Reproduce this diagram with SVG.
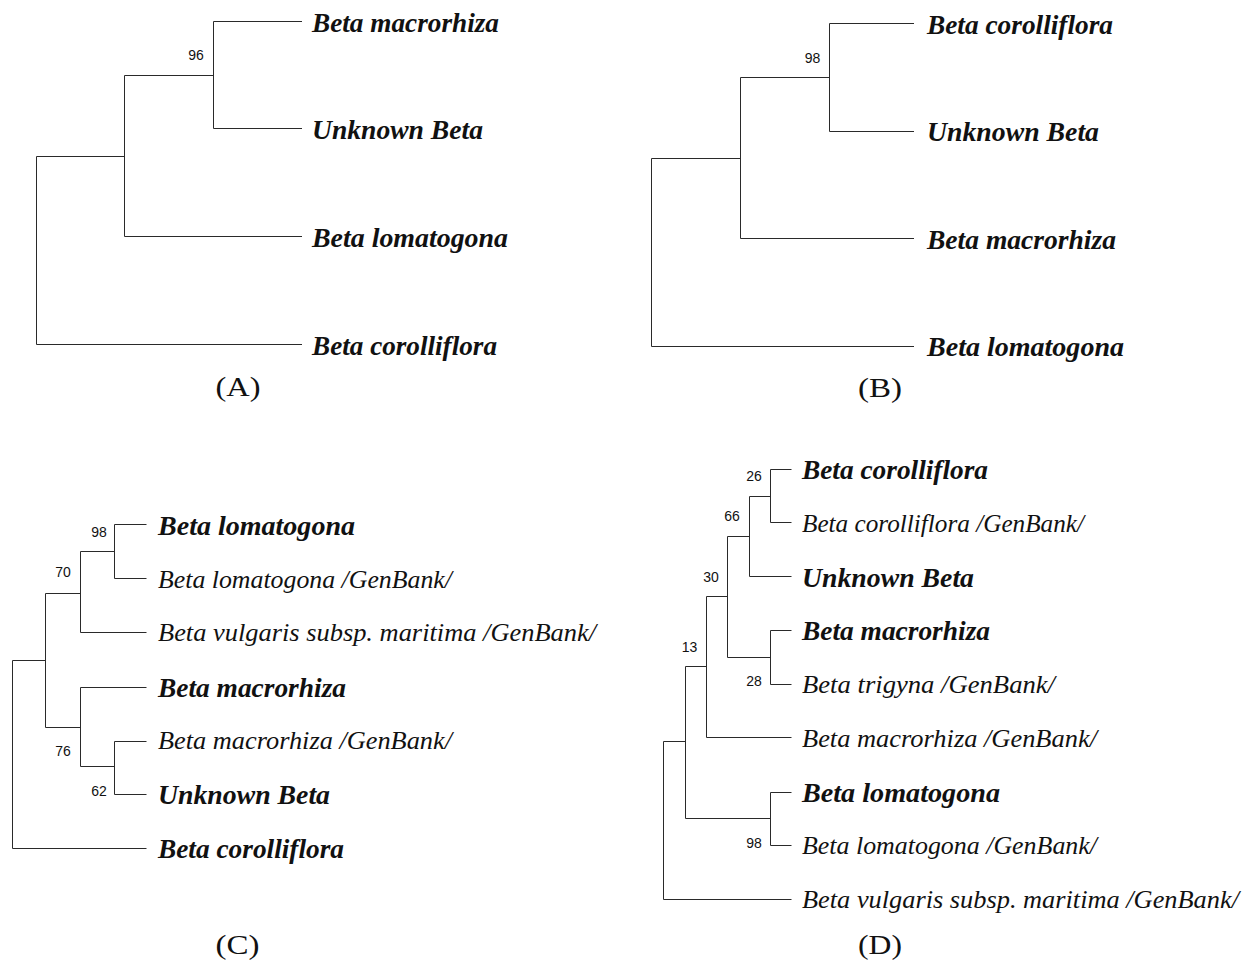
<svg xmlns="http://www.w3.org/2000/svg" width="1252" height="964" viewBox="0 0 1252 964">
<style>
.br{fill:none;stroke:#2a2a2a;stroke-width:1}
.bt{font-family:"Liberation Serif",serif;font-style:italic;font-weight:bold;font-size:27px;fill:#111}
.rt{font-family:"Liberation Serif",serif;font-style:italic;font-size:26px;fill:#111}
.bs{font-family:"Liberation Sans",sans-serif;font-size:14px;fill:#111;text-anchor:middle}
.pl{font-family:"Liberation Serif",serif;font-size:28px;fill:#111;text-anchor:middle}
</style>
<rect width="1252" height="964" fill="#fff"/>

<!-- Panel A -->
<g id="panelA">
<g id="A-connectors">
<path class="br" d="M302 21.5 H213.5 V128.5 H302"/>
<path class="br" d="M213.5 75.5 H124.5 V236.5 H302"/>
<path class="br" d="M124.5 156.5 H36.5 V344.5 H302"/>
</g>
<g id="A-leaf-macrorhiza"><text class="bt" x="312" y="32" textLength="187" lengthAdjust="spacingAndGlyphs">Beta macrorhiza</text></g>
<g id="A-leaf-unknown"><text class="bt" x="312" y="138.5" textLength="171" lengthAdjust="spacingAndGlyphs">Unknown Beta</text></g>
<g id="A-leaf-lomatogona"><text class="bt" x="312" y="247" textLength="196" lengthAdjust="spacingAndGlyphs">Beta lomatogona</text></g>
<g id="A-leaf-corolliflora"><text class="bt" x="312" y="354.5" textLength="185" lengthAdjust="spacingAndGlyphs">Beta corolliflora</text></g>
<g id="A-support"><text class="bs" x="196" y="60">96</text></g>
<g id="A-label"><text class="pl" x="238" y="396" textLength="45" lengthAdjust="spacingAndGlyphs">(A)</text></g>
</g>

<!-- Panel B -->
<g id="panelB">
<g id="B-connectors">
<path class="br" d="M914 23.5 H829.5 V131.5 H914"/>
<path class="br" d="M829.5 77.5 H740.5 V238.5 H914"/>
<path class="br" d="M740.5 158.5 H651.5 V346.5 H914"/>
</g>
<g id="B-leaf-corolliflora"><text class="bt" x="927" y="33.5" textLength="186" lengthAdjust="spacingAndGlyphs">Beta corolliflora</text></g>
<g id="B-leaf-unknown"><text class="bt" x="927" y="141" textLength="172" lengthAdjust="spacingAndGlyphs">Unknown Beta</text></g>
<g id="B-leaf-macrorhiza"><text class="bt" x="927" y="248.5" textLength="189" lengthAdjust="spacingAndGlyphs">Beta macrorhiza</text></g>
<g id="B-leaf-lomatogona"><text class="bt" x="927" y="356" textLength="197" lengthAdjust="spacingAndGlyphs">Beta lomatogona</text></g>
<g id="B-support"><text class="bs" x="812.5" y="62.5">98</text></g>
<g id="B-label"><text class="pl" x="880" y="397" textLength="44" lengthAdjust="spacingAndGlyphs">(B)</text></g>
</g>

<!-- Panel C -->
<g id="panelC">
<g id="C-connectors">
<path class="br" d="M146.5 524.5 H114.5 V578.5 H146.5"/>
<path class="br" d="M114.5 551.5 H80.5 V632.5 H146.5"/>
<path class="br" d="M146.5 741.5 H114.5 V794.5 H146.5"/>
<path class="br" d="M146.5 687.5 H80.5 V766.5 H114.5"/>
<path class="br" d="M80.5 593.5 H45.5 V727.5 H80.5"/>
<path class="br" d="M45.5 660.5 H12.5 V848.5 H146.5"/>
</g>
<g id="C-leaf-lomatogona"><text class="bt" x="158" y="535" textLength="197" lengthAdjust="spacingAndGlyphs">Beta lomatogona</text></g>
<g id="C-leaf-lomatogona-gb"><text class="rt" x="158" y="587.5" textLength="294" lengthAdjust="spacingAndGlyphs">Beta lomatogona /GenBank/</text></g>
<g id="C-leaf-vulgaris-gb"><text class="rt" x="158" y="641" textLength="438" lengthAdjust="spacingAndGlyphs">Beta vulgaris subsp. maritima /GenBank/</text></g>
<g id="C-leaf-macrorhiza"><text class="bt" x="158" y="697" textLength="188" lengthAdjust="spacingAndGlyphs">Beta macrorhiza</text></g>
<g id="C-leaf-macrorhiza-gb"><text class="rt" x="158" y="749" textLength="294" lengthAdjust="spacingAndGlyphs">Beta macrorhiza /GenBank/</text></g>
<g id="C-leaf-unknown"><text class="bt" x="158" y="804" textLength="172" lengthAdjust="spacingAndGlyphs">Unknown Beta</text></g>
<g id="C-leaf-corolliflora"><text class="bt" x="158" y="858" textLength="186" lengthAdjust="spacingAndGlyphs">Beta corolliflora</text></g>
<g id="C-supports">
<text class="bs" x="99" y="536.5">98</text>
<text class="bs" x="63" y="576.5">70</text>
<text class="bs" x="63" y="756">76</text>
<text class="bs" x="99" y="796">62</text>
</g>
<g id="C-label"><text class="pl" x="237.5" y="954" textLength="44" lengthAdjust="spacingAndGlyphs">(C)</text></g>
</g>

<!-- Panel D -->
<g id="panelD">
<g id="D-connectors">
<path class="br" d="M791.5 469.5 H770.5 V522.5 H791.5"/>
<path class="br" d="M770.5 496.5 H749.5 V576.5 H791.5"/>
<path class="br" d="M791.5 630.5 H770.5 V684.5 H791.5"/>
<path class="br" d="M749.5 536.5 H727.5 V657.5 H770.5"/>
<path class="br" d="M727.5 596.5 H706.5 V737.5 H791.5"/>
<path class="br" d="M791.5 792.5 H770.5 V845.5 H791.5"/>
<path class="br" d="M706.5 666.5 H685.5 V818.5 H770.5"/>
<path class="br" d="M685.5 741.5 H663.5 V899.5 H791.5"/>
</g>
<g id="D-leaf-corolliflora"><text class="bt" x="802" y="478.5" textLength="186" lengthAdjust="spacingAndGlyphs">Beta corolliflora</text></g>
<g id="D-leaf-corolliflora-gb"><text class="rt" x="802" y="532" textLength="282" lengthAdjust="spacingAndGlyphs">Beta corolliflora /GenBank/</text></g>
<g id="D-leaf-unknown"><text class="bt" x="802" y="586.5" textLength="172" lengthAdjust="spacingAndGlyphs">Unknown Beta</text></g>
<g id="D-leaf-macrorhiza"><text class="bt" x="802" y="640" textLength="188" lengthAdjust="spacingAndGlyphs">Beta macrorhiza</text></g>
<g id="D-leaf-trigyna-gb"><text class="rt" x="802" y="692.5" textLength="253" lengthAdjust="spacingAndGlyphs">Beta trigyna /GenBank/</text></g>
<g id="D-leaf-macrorhiza-gb"><text class="rt" x="802" y="746.5" textLength="295" lengthAdjust="spacingAndGlyphs">Beta macrorhiza /GenBank/</text></g>
<g id="D-leaf-lomatogona"><text class="bt" x="802" y="801.5" textLength="198" lengthAdjust="spacingAndGlyphs">Beta lomatogona</text></g>
<g id="D-leaf-lomatogona-gb"><text class="rt" x="802" y="854" textLength="295" lengthAdjust="spacingAndGlyphs">Beta lomatogona /GenBank/</text></g>
<g id="D-leaf-vulgaris-gb"><text class="rt" x="802" y="908" textLength="437" lengthAdjust="spacingAndGlyphs">Beta vulgaris subsp. maritima /GenBank/</text></g>
<g id="D-supports">
<text class="bs" x="754" y="480.5">26</text>
<text class="bs" x="732" y="521">66</text>
<text class="bs" x="711" y="581.5">30</text>
<text class="bs" x="689.5" y="651.5">13</text>
<text class="bs" x="754" y="686">28</text>
<text class="bs" x="754" y="848">98</text>
</g>
<g id="D-label"><text class="pl" x="880" y="954" textLength="44" lengthAdjust="spacingAndGlyphs">(D)</text></g>
</g>
</svg>
